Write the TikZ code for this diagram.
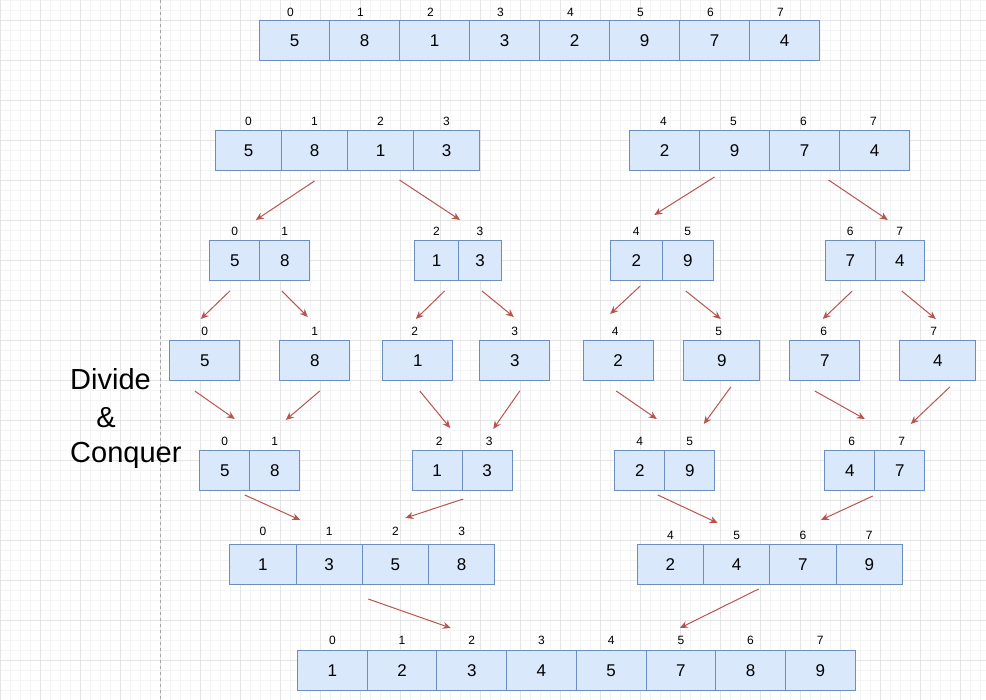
\documentclass[tikz,border=0pt]{standalone}
\usepackage{fontspec}
\setmainfont{Liberation Sans}
\usetikzlibrary{arrows.meta}
\definecolor{cellfill}{HTML}{DAE8FC}
\definecolor{celldraw}{HTML}{6C8EBF}
\definecolor{mergered}{HTML}{B85450}
\definecolor{gridmaj}{HTML}{E4E4E4}
\definecolor{gridmin}{HTML}{F4F4F4}
\newcommand{\valfont}{\fontsize{17}{20}\selectfont}
\newcommand{\idxfont}{\fontsize{12}{14}\selectfont}
\tikzset{
	cell/.style={draw=celldraw,fill=cellfill,line width=1pt,minimum height=40,inner sep=0pt,anchor=north west,font=\valfont},
	idx/.style={inner sep=0pt,font=\idxfont},
	split/.style={draw=mergered,line width=1pt,-{Stealth[length=8pt,width=7pt]}},
	title/.style={inner sep=0pt,font=\fontsize{29}{34}\selectfont},
}
% one array: name, left x, top y, cell width, label shift, index/value list
\newcommand{\cellrow}[6]{%
	\foreach \i/\v [count=\k from 0] in {#6} {%
		\node[cell,minimum width=#4] (#1\i) at (#2+\k*#4,#3) {\v};
		\node[idx] (#1\i-i) at ([#5]#1\i.north) {\i};
	}}
\begin{document}
\begin{tikzpicture}[x=1pt,y=-1pt]
	\useasboundingbox (0,0) rectangle (986,700);
	% grid
	\foreach \g in {0,10,...,980} \draw[gridmin,line width=0.8pt] (\g,0) -- (\g,700);
	\foreach \g in {0,10,...,700} \draw[gridmin,line width=0.8pt] (0,\g) -- (986,\g);
	\foreach \g in {0,40,...,960} \draw[gridmaj,line width=0.8pt] (\g,0) -- (\g,700);
	\foreach \g in {20,60,...,700} \draw[gridmaj,line width=0.8pt] (0,\g) -- (986,\g);
	\draw[black!35,dashed] (160,0) -- (160,700);
	
	\node[title,anchor=base west] (divide) at (70,390) {Divide};
	\node[title,anchor=base] (amp) at (106,428) {\&};
	\node[title,anchor=base west] (conquer) at (70,463) {Conquer};
	
	% divide
	\cellrow{top}{259}{20}{70}{xshift=-4pt,yshift=8pt}{0/5,1/8,2/1,3/3,4/2,5/9,6/7,7/4}
	\cellrow{L}{215}{130}{66}{yshift=9pt}{0/5,1/8,2/1,3/3}
	\cellrow{R}{629}{130}{70}{xshift=-1pt,yshift=9pt}{4/2,5/9,6/7,7/4}
	\cellrow{LL}{209.3}{240}{50}{yshift=9pt}{0/5,1/8}
	\cellrow{LR}{414.3}{240}{43.5}{yshift=9pt}{2/1,3/3}
	\cellrow{RL}{610}{240}{51.5}{yshift=9pt}{4/2,5/9}
	\cellrow{RR}{825}{240}{49.5}{yshift=9pt}{6/7,7/4}
	\cellrow{s}{169.3}{340}{70}{yshift=9pt}{0/5}
	\cellrow{s}{279.3}{340}{70}{yshift=9pt}{1/8}
	\cellrow{s}{382.3}{340}{70}{xshift=-3pt,yshift=9pt}{2/1}
	\cellrow{s}{479.3}{340}{70}{yshift=9pt}{3/3}
	\cellrow{s}{582.7}{340}{70}{xshift=-3pt,yshift=9pt}{4/2}
	\cellrow{s}{683.3}{340}{76}{xshift=-3pt,yshift=9pt}{5/9}
	\cellrow{s}{789.3}{340}{70}{xshift=-1pt,yshift=9pt}{6/7}
	\cellrow{s}{899.3}{340}{76}{xshift=-4pt,yshift=9pt}{7/4}
	% conquer
	\cellrow{ma}{199.3}{450}{50}{yshift=9pt}{0/5,1/8}
	\cellrow{mb}{411.7}{450}{50}{xshift=2pt,yshift=9pt}{2/1,3/3}
	\cellrow{mc}{614.3}{450}{50}{yshift=9pt}{4/2,5/9}
	\cellrow{md}{824.3}{450}{50}{xshift=2pt,yshift=9pt}{6/4,7/7}
	\cellrow{mL}{229.3}{544}{66.25}{yshift=13pt}{0/1,1/3,2/5,3/8}
	\cellrow{mR}{636.7}{544}{66.3}{yshift=9pt}{4/2,5/4,6/7,7/9}
	\cellrow{out}{297}{650}{69.7}{yshift=10pt}{0/1,1/2,2/3,3/4,4/5,5/7,6/8,7/9}
	
	\draw[split] ([yshift=-10pt]L1.south) -- ([shift={(21pt,20pt)}]LL0.north);
	\draw[split] ([shift={(19pt,-9pt)}]L2.south) -- ([shift={(-20pt,20pt)}]LR3.north);
	\draw[split] ([shift={(-20pt,-6pt)}]R5.south) -- ([shift={(18pt,25pt)}]RL4.north);
	\draw[split] ([shift={(24pt,-9pt)}]R6.south) -- ([shift={(-12pt,20pt)}]RR7.north);
	
	\draw[split] ([shift={(-5pt,-10pt)}]LL0.south) -- ([shift={(-4pt,21pt)}]s0.north);
	\draw[split] ([shift={(-3pt,-10pt)}]LL1.south) -- ([shift={(-7pt,23pt)}]s1.north);
	\draw[split] ([shift={(8pt,-10pt)}]LR2.south) -- ([shift={(-2pt,21pt)}]s2.north);
	\draw[split] ([shift={(2pt,-10pt)}]LR3.south) -- ([shift={(-1pt,23pt)}]s3.north);
	\draw[split] ([shift={(4pt,-5pt)}]RL4.south) -- ([shift={(-8pt,26pt)}]s4.north);
	\draw[split] ([shift={(-2pt,-10pt)}]RL5.south) -- ([shift={(-1pt,21pt)}]s5.north);
	\draw[split] ([shift={(2pt,-10pt)}]RR6.south) -- ([shift={(-2pt,21pt)}]s6.north);
	\draw[split] ([shift={(2pt,-10pt)}]RR7.south) -- ([shift={(-2pt,21pt)}]s7.north);
	
	\draw[split] ([shift={(-10pt,-10pt)}]s0.south) -- ([shift={(10pt,31pt)}]ma0.north);
	\draw[split] ([shift={(5pt,-10pt)}]s1.south) -- ([shift={(11pt,30pt)}]ma1.north);
	\draw[split] ([shift={(2pt,-10pt)}]s2.south) -- ([shift={(13pt,22pt)}]mb2.north);
	\draw[split] ([shift={(5pt,-10pt)}]s3.south) -- ([shift={(6pt,21pt)}]mb3.north);
	\draw[split] ([shift={(-2pt,-10pt)}]s4.south) -- ([shift={(17pt,31pt)}]mc4.north);
	\draw[split] ([shift={(9pt,-6pt)}]s5.south) -- ([shift={(14pt,26pt)}]mc5.north);
	\draw[split] ([shift={(-10pt,-10pt)}]s6.south) -- ([shift={(15pt,31pt)}]md6.north);
	\draw[split] ([shift={(12pt,-6pt)}]s7.south) -- ([shift={(11pt,26pt)}]md7.north);
	
	\draw[split] ([shift={(20pt,-4pt)}]ma0.south) -- ([shift={(-29pt,24pt)}]mL1.north);
	\draw[split] ([shift={(-24pt,-8pt)}]mb3.south) -- ([shift={(10pt,26pt)}]mL2.north);
	\draw[split] ([shift={(18pt,-4pt)}]mc4.south) -- ([shift={(-19pt,21pt)}]mR5.north);
	\draw[split] ([shift={(23pt,-5pt)}]md6.south) -- ([shift={(18pt,24pt)}]mR6.north);
	
	\draw[split] ([shift={(39pt,-14pt)}]mL1.south) -- ([shift={(-21pt,22pt)}]out2.north);
	\draw[split] ([shift={(22pt,-4pt)}]mR5.south) -- ([shift={(-1pt,22pt)}]out5.north);
\end{tikzpicture}
\end{document}
